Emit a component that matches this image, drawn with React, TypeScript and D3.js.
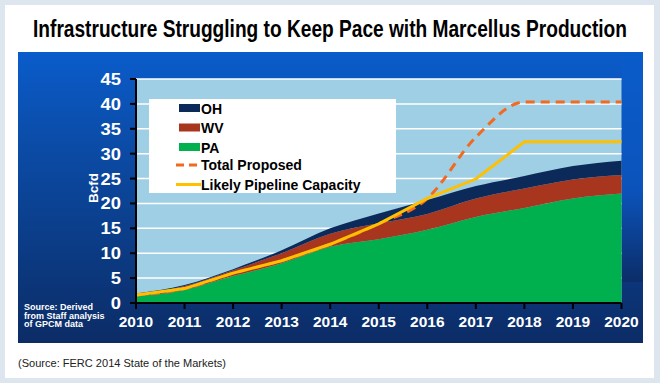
import React, { useLayoutEffect, useRef, useState } from "react";
import * as d3 from "d3";

const years = [2010, 2011, 2012, 2013, 2014, 2015, 2016, 2017, 2018, 2019, 2020];
const paValues = [1.3, 2.6, 5.4, 8.0, 11.3, 12.8, 14.7, 17.3, 19.1, 21.0, 22.0];
const wvValues = [0.3, 0.8, 1.2, 2.0, 2.6, 3.2, 3.2, 3.7, 3.9, 3.8, 3.7];
const ohValues = [0.3, 0.2, 0.2, 0.6, 1.1, 2.0, 2.8, 2.5, 2.5, 2.7, 2.9];
const proposedValues = [1.6, 2.9, 6.0, 8.5, 11.8, 15.9, 21.0, 33.3, 40.4, 40.4, 40.4];
const capacityValues = [1.6, 2.9, 6.0, 8.5, 11.8, 15.9, 21.0, 24.9, 32.4, 32.4, 32.4];
const yTicks = [0, 5, 10, 15, 20, 25, 30, 35, 40, 45];
const seriesNames = ["OH", "WV", "PA"];
const seriesColors = ["#0b2a5a", "#a8361e", "#00b04f"];
const title = "Infrastructure Struggling to Keep Pace with Marcellus Production";
const sourceNote = ["Source: Derived", "from Staff analysis", "of GPCM data"];
const footer = "(Source: FERC 2014 State of the Markets)";

export default function App() {
  const W = 660, H = 383;
  const x0 = 136, x1 = 621.5, y0 = 303, yTop = 79;
  const x = d3.scaleLinear().domain([2010, 2020]).range([x0, x1]);
  const y = d3.scaleLinear().domain([0, 45]).range([y0, yTop]);

  const titleRef = useRef<SVGTextElement>(null);
  const footRef = useRef<SVGTextElement>(null);
  const [titleScale, setTitleScale] = useState(0.8);
  const [footScale, setFootScale] = useState(0.9);
  useLayoutEffect(() => {
    if (titleRef.current) {
      const w = titleRef.current.getComputedTextLength();
      if (w > 0) setTitleScale(594 / w);
    }
    if (footRef.current) {
      const w = footRef.current.getComputedTextLength();
      if (w > 0) setFootScale(208 / w);
    }
  }, []);

  const rows = years.map((yr, i) => ({ year: yr, PA: paValues[i], WV: wvValues[i], OH: ohValues[i] }));
  const stack = d3.stack<any>().keys(["PA", "WV", "OH"])(rows);
  const area = d3
    .area<any>()
    .x((d) => x(d.data.year))
    .y0((d) => y(d[0]))
    .y1((d) => y(d[1]))
    .curve(d3.curveMonotoneX);
  const colorOf: Record<string, string> = { OH: seriesColors[0], WV: seriesColors[1], PA: seriesColors[2] };

  const propLine = d3
    .line<number>()
    .x((_, i) => x(years[i]))
    .y((d) => y(d))
    .curve(d3.curveMonotoneX);
  const capLine = d3
    .line<number>()
    .x((_, i) => x(years[i]))
    .y((d) => y(d));

  const bold = "'Liberation Sans', Arial, sans-serif";

  return (
    <svg width={W} height={H} style={{ position: "absolute", left: 0, top: 0 }}>
      <defs>
        <linearGradient id="panelGrad" x1="0" y1="0" x2="0" y2="1">
          <stop offset="0" stopColor="#0a5ccb" />
          <stop offset="0.25" stopColor="#0b4fae" />
          <stop offset="0.7" stopColor="#0b3a82" />
          <stop offset="1" stopColor="#0c2c66" />
        </linearGradient>
        <linearGradient id="rightGrad" x1="0" y1="0" x2="0" y2="1">
          <stop offset="0" stopColor="#0a5ccb" />
          <stop offset="0.6" stopColor="#0b55bf" />
          <stop offset="1" stopColor="#0c2c66" />
        </linearGradient>
      </defs>
      <rect x={0} y={0} width={W} height={H} fill="#dde6ef" />
      <rect x={5} y={5} width={649} height={373} fill="#ffffff" />
      <text
        ref={titleRef}
        transform={`translate(330,37) scale(${titleScale},1)`}
        textAnchor="middle"
        fontFamily="'Liberation Sans Narrow', 'Arial Narrow', 'Liberation Sans', sans-serif"
        fontWeight="bold"
        fontSize={23}
        fill="#000"
      >
        {title}
      </text>
      <rect x={18} y={52} width={625} height={291} fill="url(#panelGrad)" />
      <rect x={x1} y={52} width={643 - x1} height={230} fill="url(#rightGrad)" opacity={0.9} />
      <rect x={x0} y={yTop} width={x1 - x0} height={y0 - yTop} fill="#9fcfe5" />
      {yTicks.slice(1).map((t) => (
        <line key={"g" + t} x1={x0} x2={x1} y1={y(t)} y2={y(t)} stroke="#ffffff" strokeWidth={1.5} />
      ))}
      {stack.map((s) => (
        <path key={s.key} d={area(s) || ""} fill={colorOf[s.key]} />
      ))}
      <path d={propLine(proposedValues) || ""} fill="none" stroke="#f26a21" strokeWidth={3} strokeDasharray="9,6" />
      <path d={capLine(capacityValues) || ""} fill="none" stroke="#ffc000" strokeWidth={3} />
      {/* axes */}
      <line x1={x0} x2={x0} y1={yTop} y2={y0 + 6} stroke="#000" strokeWidth={2} />
      <line x1={x0 - 6} x2={x1} y1={y0} y2={y0} stroke="#000" strokeWidth={2} />
      {yTicks.map((t) => (
        <g key={"yt" + t}>
          <line x1={x0 - 6} x2={x0} y1={y(t)} y2={y(t)} stroke="#000" strokeWidth={2} />
          <text
            transform={`translate(${x0 - 15},${y(t) + 6}) scale(1.15,1)`}
            textAnchor="end"
            fontFamily={bold}
            fontWeight="bold"
            fontSize={16}
            fill="#ffffff"
          >
            {t}
          </text>
        </g>
      ))}
      {years.map((yr) => (
        <g key={"xt" + yr}>
          <line x1={x(yr)} x2={x(yr)} y1={y0} y2={y0 + 6} stroke="#000" strokeWidth={2} />
          <text
            x={x(yr)}
            y={y0 + 24}
            textAnchor="middle"
            fontFamily={bold}
            fontWeight="bold"
            fontSize={15.5}
            fill="#ffffff"
          >
            {yr}
          </text>
        </g>
      ))}
      <text
        transform={`translate(${98},${188}) rotate(-90)`}
        textAnchor="middle"
        fontFamily={bold}
        fontWeight="bold"
        fontSize={13.5}
        fill="#ffffff"
      >
        Bcfd
      </text>
      {sourceNote.map((s, i) => (
        <text key={s} x={24} y={310 + i * 8.5} fontFamily={bold} fontWeight="bold" fontSize={9} fill="#ffffff">
          {s}
        </text>
      ))}
      {/* legend */}
      <rect x={149} y={99} width={247} height={94} fill="#ffffff" />
      {seriesNames.map((n, i) => (
        <g key={n}>
          <rect x={179} y={104 + i * 19.5} width={21} height={8} fill={seriesColors[i]} />
          <text x={201} y={113.5 + i * 19.5} fontFamily={bold} fontWeight="bold" fontSize={14} fill="#000">
            {n}
          </text>
        </g>
      ))}
      <line x1={176} x2={201} y1={165} y2={165} stroke="#f26a21" strokeWidth={3} strokeDasharray="8,5" />
      <text x={201} y={170} fontFamily={bold} fontWeight="bold" fontSize={14} fill="#000">
        Total Proposed
      </text>
      <line x1={176} x2={201} y1={184.5} y2={184.5} stroke="#ffc000" strokeWidth={3} />
      <text x={201} y={189.5} fontFamily={bold} fontWeight="bold" fontSize={14} fill="#000">
        Likely Pipeline Capacity
      </text>
      <text
        ref={footRef}
        transform={`translate(18,367) scale(${footScale},1)`}
        fontFamily="'Liberation Sans', Arial, sans-serif"
        fontSize={11.5}
        fill="#222"
      >
        {footer}
      </text>
    </svg>
  );
}
